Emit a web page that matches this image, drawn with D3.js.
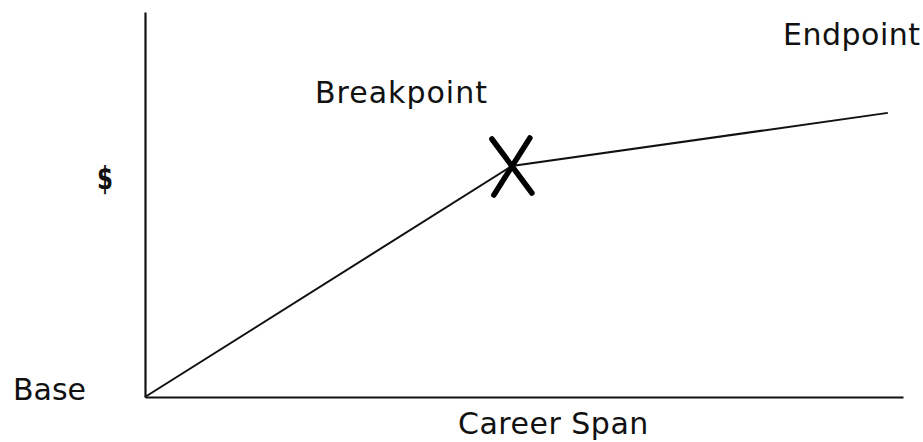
<!DOCTYPE html>
<html>
<head>
<meta charset="utf-8">
<script src="https://cdn.jsdelivr.net/npm/d3@7"></script>
<style>
  html, body { margin: 0; padding: 0; background: #fff; }
  text { font-family: "DejaVu Sans", sans-serif; fill: #111; }
</style>
</head>
<body>
<svg id="chart" width="923" height="442"></svg>
<script>
// Data (abstract units: career span 0-100, salary 0-100)
const careerSpan = [0, 48.4, 98];
const salary = [0, 60, 73.8];
const pointLabels = ["Base", "Breakpoint", "Endpoint"];
const xAxisLabel = "Career Span";
const yAxisLabel = "$";

const svg = d3.select("#chart");
const margin = { left: 145, right: 20, top: 12, bottom: 45 };
const W = 923, H = 442;

const x = d3.scaleLinear().domain([0, 100]).range([margin.left, W - margin.right]);
const y = d3.scaleLinear().domain([0, 100]).range([H - margin.bottom, margin.top]);

// Axes (domain lines only, no ticks)
svg.append("g")
  .attr("transform", `translate(0,${y(0)})`)
  .call(d3.axisBottom(x).tickValues([]).tickSizeOuter(0))
  .call(g => g.select(".domain").attr("stroke", "#111").attr("stroke-width", 2.2));

svg.append("g")
  .attr("transform", `translate(${x(0)},0)`)
  .call(d3.axisLeft(y).tickValues([]).tickSizeOuter(0))
  .call(g => g.select(".domain").attr("stroke", "#111").attr("stroke-width", 2.2));

// Line
const pts = careerSpan.map((c, i) => [c, salary[i]]);
const line = d3.line().x(d => x(d[0])).y(d => y(d[1]));
svg.append("path")
  .datum(pts)
  .attr("d", line)
  .attr("fill", "none")
  .attr("stroke", "#111")
  .attr("stroke-width", 2);

// X mark at breakpoint
const bx = x(careerSpan[1]), by = y(salary[1]);
const armX = 20, armY = 27;
svg.append("path")
  .attr("d", `M${bx - armX},${by - armY}L${bx + armX},${by + armY}M${bx + armX - 2},${by - armY - 1}L${bx - armX + 2},${by + armY + 2}`)
  .attr("stroke", "#000")
  .attr("stroke-width", 5.5)
  .attr("stroke-linecap", "round")
  .attr("fill", "none");

// Labels
const fs = 30;
svg.append("text").attr("x", 13).attr("y", y(0) + 3).attr("font-size", fs).text(pointLabels[0]);
svg.append("text").attr("x", 315).attr("y", 103).attr("font-size", fs).attr("letter-spacing", 1).text(pointLabels[1]);
svg.append("text").attr("x", 783).attr("y", 45).attr("font-size", fs).attr("letter-spacing", 0.5).text(pointLabels[2]);
svg.append("text").attr("x", 458).attr("y", 434).attr("font-size", fs).attr("letter-spacing", 0.5).text(xAxisLabel);
svg.append("text")
  .attr("transform", "translate(97,189) scale(0.85,1.2)")
  .attr("font-size", 27).attr("font-weight", "bold").text(yAxisLabel);
</script>
</body>
</html>
